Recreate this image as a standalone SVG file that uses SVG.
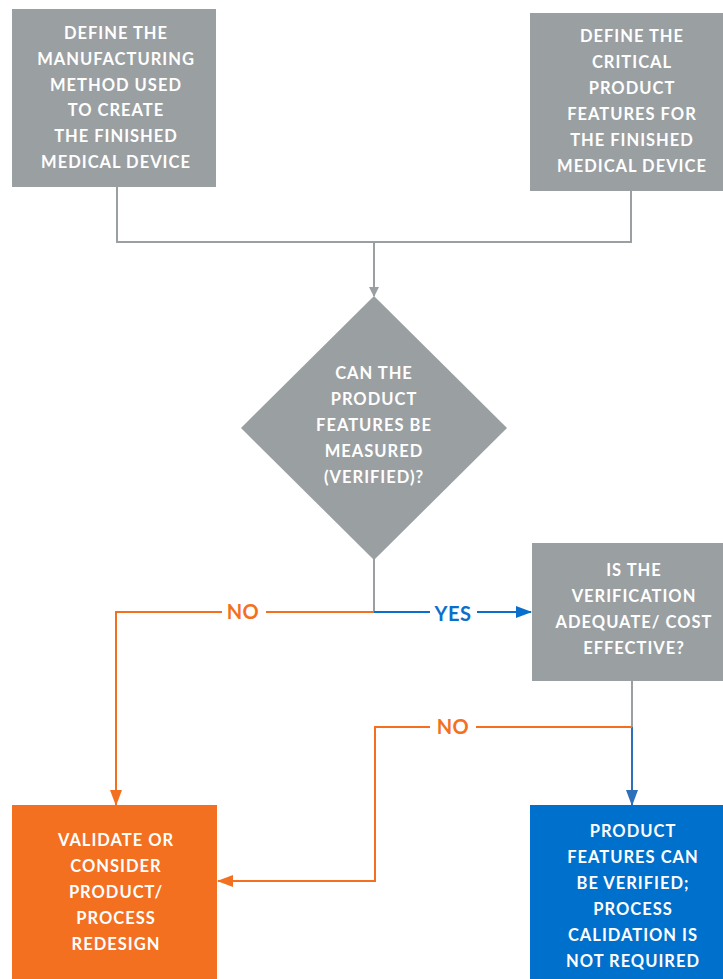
<svg xmlns="http://www.w3.org/2000/svg" width="723" height="979" viewBox="0 0 723 979">
  <style>
    .lbl { font-family: Lato, "Liberation Sans", sans-serif; font-weight: 700; font-size: 16.5px; letter-spacing: 1px; fill: #ffffff; text-anchor: middle; }
    .edge { font-family: Lato, "Liberation Sans", sans-serif; font-weight: 700; font-size: 20px; letter-spacing: 0.5px; text-anchor: middle; }
    .gray { fill: #9a9fa2; }
    .wire { fill: none; stroke-width: 2; }
  </style>
  <defs>
    <marker id="ahGray" markerWidth="10" markerHeight="10" refX="9" refY="5" orient="auto" markerUnits="userSpaceOnUse" viewBox="0 0 10 10">
      <path d="M0,0 L10,5 L0,10 Z" fill="#9a9fa2"/>
    </marker>
    <marker id="ahOrange" markerWidth="16" markerHeight="12" refX="15" refY="6" orient="auto" markerUnits="userSpaceOnUse" viewBox="0 0 16 12">
      <path d="M0,0 L16,6 L0,12 Z" fill="#f37021"/>
    </marker>
    <marker id="ahBlue" markerWidth="16" markerHeight="12" refX="15" refY="6" orient="auto" markerUnits="userSpaceOnUse" viewBox="0 0 16 12">
      <path d="M0,0 L16,6 L0,12 Z" fill="#0a6fcc"/>
    </marker>
    <marker id="ahSteel" markerWidth="16" markerHeight="12" refX="15" refY="6" orient="auto" markerUnits="userSpaceOnUse" viewBox="0 0 16 12">
      <path d="M0,0 L16,6 L0,12 Z" fill="#2e6fba"/>
    </marker>
  </defs>

  <g id="connectors">
    <!-- both definition boxes merge into the decision -->
    <path class="wire" stroke="#9a9fa2" d="M117,187 V242 H631 V191"/>
    <path class="wire" stroke="#9a9fa2" d="M374,242 V296" marker-end="url(#ahGray)"/>
    <!-- decision stem -->
    <path class="wire" stroke="#9a9fa2" d="M374,558 V612"/>
    <!-- NO branch from decision -->
    <path class="wire" stroke="#f37021" d="M374,612 H266 M222,612 H116 V805" marker-end="url(#ahOrange)"/>
    <!-- YES branch from decision -->
    <path class="wire" stroke="#0a6fcc" d="M374,612 H430 M477,612 H531" marker-end="url(#ahBlue)"/>
    <!-- verification box stem -->
    <path class="wire" stroke="#9a9fa2" d="M632,681 V727"/>
    <path class="wire" stroke="#2e6fba" d="M632,727 V805" marker-end="url(#ahSteel)"/>
    <!-- NO branch from verification -->
    <path class="wire" stroke="#f37021" d="M632,727 H476 M430,727 H375 V881 H218" marker-end="url(#ahOrange)"/>
    <text class="edge" x="243" y="619" fill="#f37021">NO</text>
    <text class="edge" x="453" y="621" fill="#0a6fcc">YES</text>
    <text class="edge" x="453" y="734" fill="#f37021">NO</text>
  </g>

  <g id="define-method">
    <rect class="gray" x="12" y="9" width="204" height="178"/>
    <text class="lbl" x="116" y="39">DEFINE THE</text>
    <text class="lbl" x="116" y="65">MANUFACTURING</text>
    <text class="lbl" x="116" y="91">METHOD USED</text>
    <text class="lbl" x="116" y="116">TO CREATE</text>
    <text class="lbl" x="116" y="142">THE FINISHED</text>
    <text class="lbl" x="116" y="168">MEDICAL DEVICE</text>
  </g>

  <g id="define-features">
    <rect class="gray" x="530" y="13" width="193" height="178"/>
    <text class="lbl" x="632" y="42">DEFINE THE</text>
    <text class="lbl" x="632" y="68">CRITICAL</text>
    <text class="lbl" x="632" y="94">PRODUCT</text>
    <text class="lbl" x="632" y="120">FEATURES FOR</text>
    <text class="lbl" x="632" y="146">THE FINISHED</text>
    <text class="lbl" x="632" y="172">MEDICAL DEVICE</text>
  </g>

  <g id="can-measure">
    <polygon class="gray" points="374,296 507,428 374,560 241,428"/>
    <text class="lbl" x="374" y="379">CAN THE</text>
    <text class="lbl" x="374" y="405">PRODUCT</text>
    <text class="lbl" x="374" y="431">FEATURES BE</text>
    <text class="lbl" x="374" y="457">MEASURED</text>
    <text class="lbl" x="374" y="483">(VERIFIED)?</text>
  </g>

  <g id="verification-adequate">
    <rect class="gray" x="532" y="543" width="191" height="138"/>
    <text class="lbl" x="634" y="576">IS THE</text>
    <text class="lbl" x="634" y="602">VERIFICATION</text>
    <text class="lbl" x="634" y="628">ADEQUATE/ COST</text>
    <text class="lbl" x="634" y="654">EFFECTIVE?</text>
  </g>

  <g id="validate-redesign">
    <rect x="12" y="805" width="205" height="174" fill="#f37021"/>
    <text class="lbl" x="116" y="846">VALIDATE OR</text>
    <text class="lbl" x="116" y="872">CONSIDER</text>
    <text class="lbl" x="116" y="898">PRODUCT/</text>
    <text class="lbl" x="116" y="924">PROCESS</text>
    <text class="lbl" x="116" y="950">REDESIGN</text>
  </g>

  <g id="verified-no-validation">
    <rect x="530" y="805" width="193" height="174" fill="#0070cd"/>
    <text class="lbl" x="633" y="837">PRODUCT</text>
    <text class="lbl" x="633" y="863">FEATURES CAN</text>
    <text class="lbl" x="633" y="889">BE VERIFIED;</text>
    <text class="lbl" x="633" y="915">PROCESS</text>
    <text class="lbl" x="633" y="941">CALIDATION IS</text>
    <text class="lbl" x="633" y="967">NOT REQUIRED</text>
  </g>
</svg>
